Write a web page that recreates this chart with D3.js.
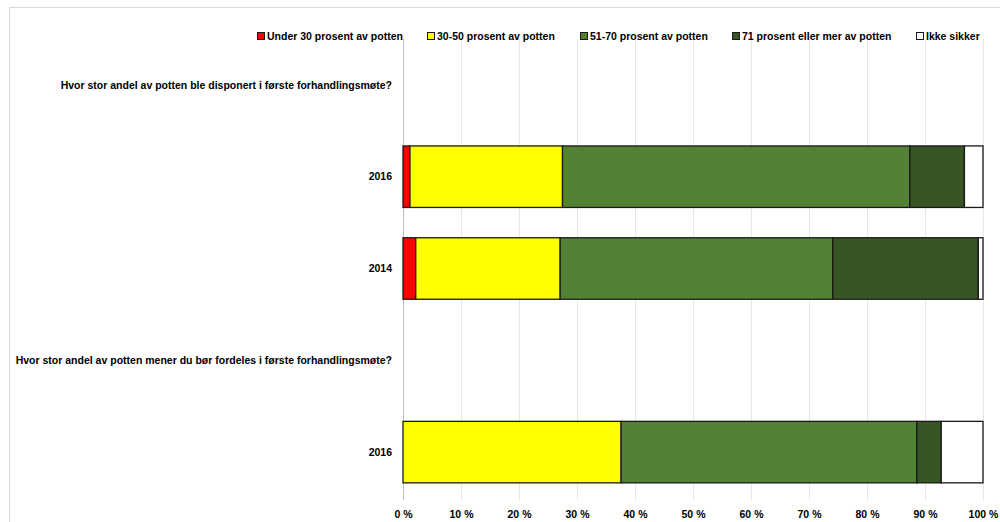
<!doctype html>
<html lang="no">
<head>
<meta charset="UTF-8">
<title>Andel av potten</title>
<style>
  body { margin: 0; background: #fff; }
  svg { display: block; font-family: "Liberation Sans", Arial, sans-serif; }
  .lbl { font-size: 10.5px; font-weight: bold; fill: #000; }
</style>
</head>
<body>
<div id="chart"></div>
<script src="https://d3js.org/d3.v7.min.js"></script>
<script>
  const rows = [
    'Hvor stor andel av potten ble disponert i første forhandlingsmøte?',
    '2016',
    '2014',
    'Hvor stor andel av potten mener du bør fordeles i første forhandlingsmøte?',
    '2016 '
  ]
  const seriesNames = ['Under 30 prosent av potten', '30-50 prosent av potten', '51-70 prosent av potten',
    '71 prosent eller mer av potten', 'Ikke sikker']
  const colors = ['#ff0000', '#ffff00', '#538135', '#375623', '#ffffff']
  // one array per series, in row order (null = heading row without bar)
  const under30 = [null, 1.2, 2.2, null, 0]
  const p30to50 = [null, 26.3, 24.9, null, 37.6]
  const p51to70 = [null, 59.9, 47.0, null, 51.0]
  const p71plus = [null, 9.4, 25.1, null, 4.2]
  const ikkeSikker = [null, 3.2, 0.8, null, 7.2]
  const ticks = [0, 10, 20, 30, 40, 50, 60, 70, 80, 90, 100]

  const width = 1000
  const height = 522
  const plotLeft = 403
  const plotRight = 983
  const plotTop = 39
  const plotBottom = 498

  const svg = d3.select('#chart').append('svg').attr('width', width).attr('height', height)

  // chart border
  svg.append('rect').attr('x', 9.5).attr('y', 7.5).attr('width', 1000).attr('height', 530)
    .attr('fill', 'none').attr('stroke', '#d9d9d9')

  const x = d3.scaleLinear().domain([0, 100]).range([plotLeft, plotRight])
  const y = d3.scaleBand().domain(rows).range([plotTop, plotBottom]).paddingInner(0.33).paddingOuter(0.165)

  // gridlines
  svg.append('g').selectAll('line').data(ticks).enter().append('line')
    .attr('x1', d => x(d) + 0.5).attr('x2', d => x(d) + 0.5)
    .attr('y1', plotTop).attr('y2', plotBottom + 2)
    .attr('stroke', d => d === 0 ? '#bfbfbf' : '#e6e6e6')

  const xAxis = d3.axisBottom(x).tickValues(ticks).tickSize(0).tickFormat(d => d + ' %')
  const gx = svg.append('g').attr('transform', `translate(0, ${plotBottom + 9})`).call(xAxis)
  gx.select('.domain').remove()
  gx.selectAll('text').attr('class', 'lbl').attr('dy', '0.71em').attr('y', 4)

  const data = [under30, p30to50, p51to70, p71plus, ikkeSikker]
  const stackData = rows.map((r, i) => {
    const o = { row: r }
    data.forEach((s, j) => { o['s' + j] = s[i] || 0 })
    o.has = data[0][i] !== null
    return o
  })
  const stack = d3.stack().keys(data.map((s, j) => 's' + j))(stackData)

  stack.forEach((layer, j) => {
    svg.append('g').selectAll('rect')
      .data(layer.filter(d => d.data.has && d[1] - d[0] > 0))
      .enter().append('rect')
      .attr('x', d => x(d[0]))
      .attr('y', d => y(d.data.row))
      .attr('width', d => x(d[1]) - x(d[0]))
      .attr('height', y.bandwidth())
      .attr('fill', colors[j])
      .attr('stroke', '#1a1a1a')
      .attr('stroke-width', 1.3)
  })

  // category labels
  svg.append('g').selectAll('text').data(rows).enter().append('text')
    .attr('class', 'lbl')
    .attr('x', 392)
    .attr('y', d => y(d) + y.bandwidth() / 2)
    .attr('dy', '0.35em')
    .attr('text-anchor', 'end')
    .text(d => d.trim())

  // legend
  const legendX = [257, 427, 580, 732, 916]
  const legend = svg.append('g').selectAll('g').data(seriesNames).enter().append('g')
    .attr('transform', (d, i) => `translate(${legendX[i]}, 36)`)
  legend.append('rect').attr('x', 0.5).attr('y', -3.5).attr('width', 7).attr('height', 7)
    .attr('fill', (d, i) => colors[i]).attr('stroke', '#1a1a1a')
  legend.append('text').attr('class', 'lbl').attr('x', 10).attr('dy', '0.35em').text(d => d)
</script>
</body>
</html>
